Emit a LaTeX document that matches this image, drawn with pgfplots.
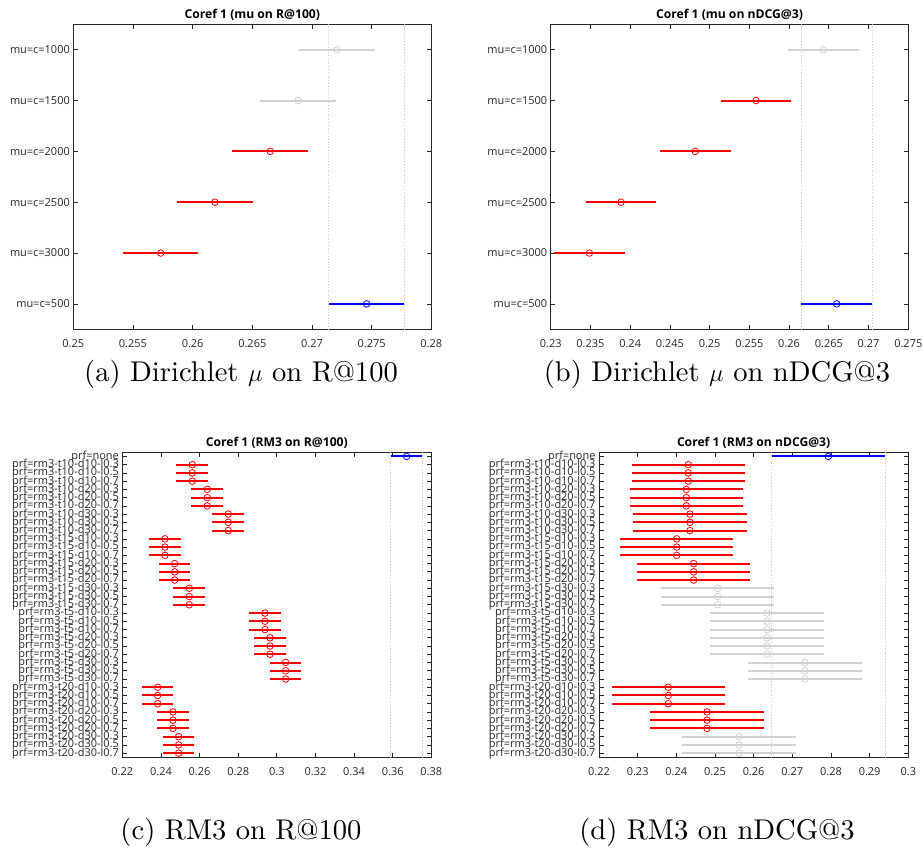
\documentclass[border=0pt]{standalone}
\usepackage{fontspec}
\setsansfont{Open Sans}
\newfontfamily\capfont{lmroman10-regular.otf}
\usepackage{pgfplots}
\pgfplotsset{compat=1.18}

\definecolor{axgray}{rgb}{0.15,0.15,0.15}
\definecolor{sigred}{rgb}{1,0,0}
\definecolor{ctlblue}{rgb}{0,0,1}
\definecolor{nsgray}{rgb}{0.82,0.82,0.82}
\definecolor{gridgray}{rgb}{0.78,0.78,0.78}

\pgfplotsset{
  mc/.style={
    scale only axis,
    height=305bp,
    ymin=0.5, y dir=reverse,
    axis line style={draw=axgray, line width=0.9bp},
    every tick/.style={draw=axgray, line width=0.7bp},
    tick align=inside,
    major tick length=4.5bp,
    tick label style={font=\sffamily\fontsize{11}{11}\selectfont, text=axgray},
    xticklabel style={yshift=-7bp},
    every axis title shift=0pt,
    title style={at={(0.5,1)}, anchor=base, yshift=6bp,
      font=\sffamily\bfseries\fontsize{12.2}{13}\selectfont, text=black},
  },
  % comparison interval (lower to upper bound), one segment per group
  ci/.style={draw=#1, line width=2bp, unbounded coords=jump, no markers},
  % group mean
  mean/.style={draw=#1, only marks, mark=o, mark size=3.3bp,
    mark options={draw=#1, line width=0.8bp, fill=none}},
  vline/.style={draw=gridgray, dotted, line width=0.8bp},
}

\begin{document}
\begin{tikzpicture}
\useasboundingbox (0,0) rectangle (923bp,852bp);

% ---------------- (a) Dirichlet mu on R@100 ----------------
\begin{axis}[mc, at={(73.3bp,522.7bp)}, anchor=south west, width=358bp,
  title={Coref 1 (mu on R@100)},
  xmin=0.25, xmax=0.28, ymax=6.5,
  xtick={0.25,0.255,0.26,0.265,0.27,0.275,0.28},
  xticklabels={0.25,0.255,0.26,0.265,0.27,0.275,0.28},
  ytick={1,2,3,4,5,6},
  yticklabels={mu=c=1000,mu=c=1500,mu=c=2000,mu=c=2500,mu=c=3000,mu=c=500}]
\addplot[vline] coordinates {(0.27141,0.5) (0.27141,6.5)};
\addplot[vline] coordinates {(0.27775,0.5) (0.27775,6.5)};
\addplot[ci=nsgray] coordinates {
  (0.26893,1) (0.27527,1) (nan,nan)
  (0.26568,2) (0.27202,2)};
\addplot[ci=sigred] coordinates {
  (0.26333,3) (0.26967,3) (nan,nan)
  (0.25870,4) (0.26504,4) (nan,nan)
  (0.25415,5) (0.26049,5)};
\addplot[ci=ctlblue] coordinates {(0.27141,6) (0.27775,6)};
\addplot[mean=nsgray] coordinates {(0.27210,1) (0.26885,2)};
\addplot[mean=sigred] coordinates {(0.26650,3) (0.26187,4) (0.25732,5)};
\addplot[mean=ctlblue] coordinates {(0.27458,6)};
\end{axis}

% ---------------- (b) Dirichlet mu on nDCG@3 ----------------
\begin{axis}[mc, at={(550.7bp,522.7bp)}, anchor=south west, width=357.6bp,
  title={Coref 1 (mu on nDCG@3)},
  xmin=0.23, xmax=0.275, ymax=6.5,
  xtick={0.23,0.235,0.24,0.245,0.25,0.255,0.26,0.265,0.27,0.275},
  xticklabels={0.23,0.235,0.24,0.245,0.25,0.255,0.26,0.265,0.27,0.275},
  ytick={1,2,3,4,5,6},
  yticklabels={mu=c=1000,mu=c=1500,mu=c=2000,mu=c=2500,mu=c=3000,mu=c=500}]
\addplot[vline] coordinates {(0.26154,0.5) (0.26154,6.5)};
\addplot[vline] coordinates {(0.27044,0.5) (0.27044,6.5)};
\addplot[ci=nsgray] coordinates {(0.25986,1) (0.26876,1)};
\addplot[ci=sigred] coordinates {
  (0.25139,2) (0.26029,2) (nan,nan)
  (0.24375,3) (0.25265,3) (nan,nan)
  (0.23440,4) (0.24330,4) (nan,nan)
  (0.23042,5) (0.23932,5)};
\addplot[ci=ctlblue] coordinates {(0.26154,6) (0.27044,6)};
\addplot[mean=nsgray] coordinates {(0.26431,1)};
\addplot[mean=sigred] coordinates {(0.25584,2) (0.24820,3) (0.23885,4) (0.23487,5)};
\addplot[mean=ctlblue] coordinates {(0.26599,6)};
\end{axis}

% ---------------- (c) RM3 on R@100 ----------------
\begin{axis}[mc, at={(122.3bp,94.7bp)}, anchor=south west, width=309bp,
  title={Coref 1 (RM3 on R@100)},
  xmin=0.22, xmax=0.38, ymax=37.5,
  xtick={0.22,0.24,0.26,0.28,0.30,0.32,0.34,0.36,0.38},
  xticklabels={0.22,0.24,0.26,0.28,0.3,0.32,0.34,0.36,0.38},
  ytick={1,...,37},
  yticklabels={prf=none,
    prf=rm3-t10-d10-l0.3,prf=rm3-t10-d10-l0.5,prf=rm3-t10-d10-l0.7,
    prf=rm3-t10-d20-l0.3,prf=rm3-t10-d20-l0.5,prf=rm3-t10-d20-l0.7,
    prf=rm3-t10-d30-l0.3,prf=rm3-t10-d30-l0.5,prf=rm3-t10-d30-l0.7,
    prf=rm3-t15-d10-l0.3,prf=rm3-t15-d10-l0.5,prf=rm3-t15-d10-l0.7,
    prf=rm3-t15-d20-l0.3,prf=rm3-t15-d20-l0.5,prf=rm3-t15-d20-l0.7,
    prf=rm3-t15-d30-l0.3,prf=rm3-t15-d30-l0.5,prf=rm3-t15-d30-l0.7,
    prf=rm3-t5-d10-l0.3,prf=rm3-t5-d10-l0.5,prf=rm3-t5-d10-l0.7,
    prf=rm3-t5-d20-l0.3,prf=rm3-t5-d20-l0.5,prf=rm3-t5-d20-l0.7,
    prf=rm3-t5-d30-l0.3,prf=rm3-t5-d30-l0.5,prf=rm3-t5-d30-l0.7,
    prf=rm3-t20-d10-l0.3,prf=rm3-t20-d10-l0.5,prf=rm3-t20-d10-l0.7,
    prf=rm3-t20-d20-l0.3,prf=rm3-t20-d20-l0.5,prf=rm3-t20-d20-l0.7,
    prf=rm3-t20-d30-l0.3,prf=rm3-t20-d30-l0.5,prf=rm3-t20-d30-l0.7}]
\addplot[vline] coordinates {(0.35902,0.5) (0.35902,37.5)};
\addplot[vline] coordinates {(0.37542,0.5) (0.37542,37.5)};
\addplot[ci=sigred] coordinates {
  (0.24804,2) (0.26444,2) (nan,nan) (0.24804,3) (0.26444,3) (nan,nan) (0.24804,4) (0.26444,4) (nan,nan)
  (0.25581,5) (0.27221,5) (nan,nan) (0.25581,6) (0.27221,6) (nan,nan) (0.25581,7) (0.27221,7) (nan,nan)
  (0.26668,8) (0.28308,8) (nan,nan) (0.26668,9) (0.28308,9) (nan,nan) (0.26668,10) (0.28308,10) (nan,nan)
  (0.23389,11) (0.25029,11) (nan,nan) (0.23389,12) (0.25029,12) (nan,nan) (0.23389,13) (0.25029,13) (nan,nan)
  (0.23890,14) (0.25530,14) (nan,nan) (0.23890,15) (0.25530,15) (nan,nan) (0.23890,16) (0.25530,16) (nan,nan)
  (0.24649,17) (0.26289,17) (nan,nan) (0.24649,18) (0.26289,18) (nan,nan) (0.24649,19) (0.26289,19) (nan,nan)
  (0.28567,20) (0.30207,20) (nan,nan) (0.28567,21) (0.30207,21) (nan,nan) (0.28567,22) (0.30207,22) (nan,nan)
  (0.28826,23) (0.30466,23) (nan,nan) (0.28826,24) (0.30466,24) (nan,nan) (0.28826,25) (0.30466,25) (nan,nan)
  (0.29637,26) (0.31277,26) (nan,nan) (0.29637,27) (0.31277,27) (nan,nan) (0.29637,28) (0.31277,28) (nan,nan)
  (0.23010,29) (0.24650,29) (nan,nan) (0.23010,30) (0.24650,30) (nan,nan) (0.23010,31) (0.24650,31) (nan,nan)
  (0.23803,32) (0.25443,32) (nan,nan) (0.23803,33) (0.25443,33) (nan,nan) (0.23803,34) (0.25443,34) (nan,nan)
  (0.24097,35) (0.25737,35) (nan,nan) (0.24097,36) (0.25737,36) (nan,nan) (0.24097,37) (0.25737,37)};
\addplot[ci=ctlblue] coordinates {(0.35902,1) (0.37542,1)};
\addplot[mean=sigred] coordinates {
  (0.25624,2) (0.25624,3) (0.25624,4)
  (0.26401,5) (0.26401,6) (0.26401,7)
  (0.27488,8) (0.27488,9) (0.27488,10)
  (0.24209,11) (0.24209,12) (0.24209,13)
  (0.24710,14) (0.24710,15) (0.24710,16)
  (0.25469,17) (0.25469,18) (0.25469,19)
  (0.29387,20) (0.29387,21) (0.29387,22)
  (0.29646,23) (0.29646,24) (0.29646,25)
  (0.30457,26) (0.30457,27) (0.30457,28)
  (0.23830,29) (0.23830,30) (0.23830,31)
  (0.24623,32) (0.24623,33) (0.24623,34)
  (0.24917,35) (0.24917,36) (0.24917,37)};
\addplot[mean=ctlblue] coordinates {(0.36722,1)};
\end{axis}

% ---------------- (d) RM3 on nDCG@3 ----------------
\begin{axis}[mc, at={(599bp,94.7bp)}, anchor=south west, width=309.3bp,
  title={Coref 1 (RM3 on nDCG@3)},
  xmin=0.22, xmax=0.30, ymax=37.5,
  xtick={0.22,0.23,0.24,0.25,0.26,0.27,0.28,0.29,0.30},
  xticklabels={0.22,0.23,0.24,0.25,0.26,0.27,0.28,0.29,0.3},
  ytick={1,...,37},
  yticklabels={prf=none,
    prf=rm3-t10-d10-l0.3,prf=rm3-t10-d10-l0.5,prf=rm3-t10-d10-l0.7,
    prf=rm3-t10-d20-l0.3,prf=rm3-t10-d20-l0.5,prf=rm3-t10-d20-l0.7,
    prf=rm3-t10-d30-l0.3,prf=rm3-t10-d30-l0.5,prf=rm3-t10-d30-l0.7,
    prf=rm3-t15-d10-l0.3,prf=rm3-t15-d10-l0.5,prf=rm3-t15-d10-l0.7,
    prf=rm3-t15-d20-l0.3,prf=rm3-t15-d20-l0.5,prf=rm3-t15-d20-l0.7,
    prf=rm3-t15-d30-l0.3,prf=rm3-t15-d30-l0.5,prf=rm3-t15-d30-l0.7,
    prf=rm3-t5-d10-l0.3,prf=rm3-t5-d10-l0.5,prf=rm3-t5-d10-l0.7,
    prf=rm3-t5-d20-l0.3,prf=rm3-t5-d20-l0.5,prf=rm3-t5-d20-l0.7,
    prf=rm3-t5-d30-l0.3,prf=rm3-t5-d30-l0.5,prf=rm3-t5-d30-l0.7,
    prf=rm3-t20-d10-l0.3,prf=rm3-t20-d10-l0.5,prf=rm3-t20-d10-l0.7,
    prf=rm3-t20-d20-l0.3,prf=rm3-t20-d20-l0.5,prf=rm3-t20-d20-l0.7,
    prf=rm3-t20-d30-l0.3,prf=rm3-t20-d30-l0.5,prf=rm3-t20-d30-l0.7}]
\addplot[vline] coordinates {(0.26465,0.5) (0.26465,37.5)};
\addplot[vline] coordinates {(0.29397,0.5) (0.29397,37.5)};
\addplot[ci=nsgray] coordinates {
  (0.23603,17) (0.26535,17) (nan,nan) (0.23603,18) (0.26535,18) (nan,nan) (0.23603,19) (0.26535,19) (nan,nan)
  (0.24879,20) (0.27811,20) (nan,nan) (0.24879,21) (0.27811,21) (nan,nan) (0.24879,22) (0.27811,22) (nan,nan)
  (0.24879,23) (0.27811,23) (nan,nan) (0.24879,24) (0.27811,24) (nan,nan) (0.24879,25) (0.27811,25) (nan,nan)
  (0.25862,26) (0.28794,26) (nan,nan) (0.25862,27) (0.28794,27) (nan,nan) (0.25862,28) (0.28794,28) (nan,nan)
  (0.24155,35) (0.27087,35) (nan,nan) (0.24155,36) (0.27087,36) (nan,nan) (0.24155,37) (0.27087,37)};
\addplot[ci=sigred] coordinates {
  (0.22844,2) (0.25776,2) (nan,nan) (0.22844,3) (0.25776,3) (nan,nan) (0.22844,4) (0.25776,4) (nan,nan)
  (0.22793,5) (0.25725,5) (nan,nan) (0.22793,6) (0.25725,6) (nan,nan) (0.22793,7) (0.25725,7) (nan,nan)
  (0.22887,8) (0.25819,8) (nan,nan) (0.22887,9) (0.25819,9) (nan,nan) (0.22887,10) (0.25819,10) (nan,nan)
  (0.22543,11) (0.25475,11) (nan,nan) (0.22543,12) (0.25475,12) (nan,nan) (0.22543,13) (0.25475,13) (nan,nan)
  (0.22982,14) (0.25914,14) (nan,nan) (0.22982,15) (0.25914,15) (nan,nan) (0.22982,16) (0.25914,16) (nan,nan)
  (0.22327,29) (0.25259,29) (nan,nan) (0.22327,30) (0.25259,30) (nan,nan) (0.22327,31) (0.25259,31) (nan,nan)
  (0.23327,32) (0.26259,32) (nan,nan) (0.23327,33) (0.26259,33) (nan,nan) (0.23327,34) (0.26259,34)};
\addplot[ci=ctlblue] coordinates {(0.26465,1) (0.29397,1)};
\addplot[mean=nsgray] coordinates {
  (0.25069,17) (0.25069,18) (0.25069,19)
  (0.26345,20) (0.26345,21) (0.26345,22)
  (0.26345,23) (0.26345,24) (0.26345,25)
  (0.27328,26) (0.27328,27) (0.27328,28)
  (0.25621,35) (0.25621,36) (0.25621,37)};
\addplot[mean=sigred] coordinates {
  (0.24310,2) (0.24310,3) (0.24310,4)
  (0.24259,5) (0.24259,6) (0.24259,7)
  (0.24353,8) (0.24353,9) (0.24353,10)
  (0.24009,11) (0.24009,12) (0.24009,13)
  (0.24448,14) (0.24448,15) (0.24448,16)
  (0.23793,29) (0.23793,30) (0.23793,31)
  (0.24793,32) (0.24793,33) (0.24793,34)};
\addplot[mean=ctlblue] coordinates {(0.27931,1)};
\end{axis}

% ---------------- sub-captions ----------------
\begin{scope}[every node/.style={font=\capfont\fontsize{28.65}{34}\selectfont, inner sep=0pt}]
\node[anchor=base] at (241bp,470bp) {(a) Dirichlet $\mu$ on R@100};
\node[anchor=base] at (717bp,470bp) {(b) Dirichlet $\mu$ on nDCG@3};
\node[anchor=base] at (241bp,13bp) {(c) RM3 on R@100};
\node[anchor=base] at (717bp,13bp) {(d) RM3 on nDCG@3};
\end{scope}
\end{tikzpicture}
\end{document}
